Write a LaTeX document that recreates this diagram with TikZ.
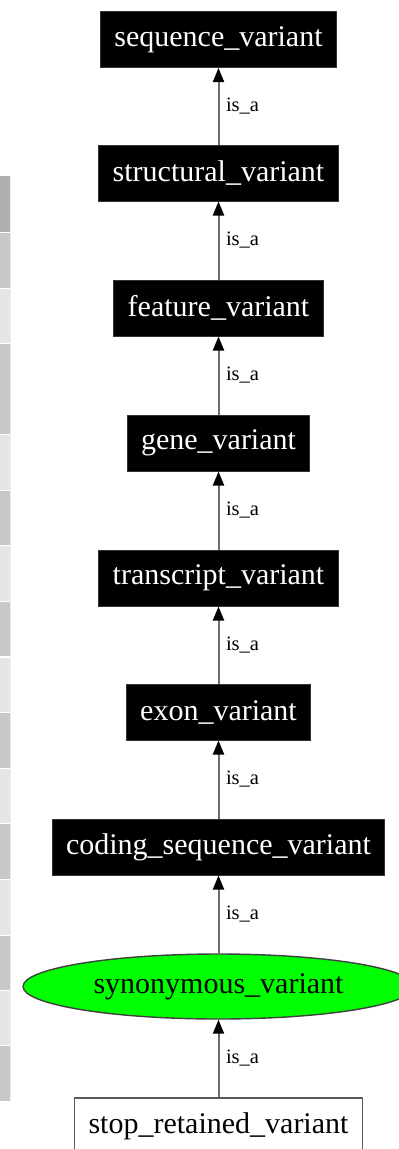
\documentclass[tikz,border=0pt]{standalone}
\usepackage{fontspec}
\setmainfont{Liberation Serif}
\usetikzlibrary{arrows.meta,shapes.geometric}
\definecolor{stripA}{HTML}{B0B0B0}
\definecolor{stripB}{HTML}{C8C8C8}
\definecolor{stripC}{HTML}{E6E6E6}
\definecolor{stripEdge}{HTML}{EEEEEE}
\definecolor{edgegray}{HTML}{6E6E6E}
\definecolor{termgreen}{HTML}{00FF00}
\tikzset{
  termbox/.style={rectangle, fill=black, draw=black!80, line width=1pt,
    text=white, inner xsep=14pt, inner ysep=0pt, minimum height=56pt,
    font=\fontsize{30}{34}\selectfont},
  leafbox/.style={rectangle, fill=white, draw=black!65, line width=1.4pt,
    text=black, inner xsep=14pt, inner ysep=0pt, minimum height=56pt,
    font=\fontsize{30}{34}\selectfont},
  focusterm/.style={ellipse, fill=termgreen, draw=black!75, line width=1.4pt,
    text=black, inner sep=0pt, minimum width=391pt, minimum height=65pt,
    font=\fontsize{30}{34}\selectfont},
  isa/.style={draw=edgegray, line width=2pt,
    -{Triangle[length=14pt,width=11pt,fill=black,color=black]}},
  isalabel/.style={anchor=west, inner sep=0pt, font=\fontsize{20.5}{24}\selectfont}
}
\begin{document}
\begin{tikzpicture}[x=1pt,y=-1pt]
\useasboundingbox (0,0) rectangle (399,1149);
\clip (0,0) rectangle (399,1149);
\fill[white] (0,0) rectangle (399,1149);

% grey striped margin on the left
\fill[stripA] (0,176) rectangle (10,232);
\fill[stripB] (0,233) rectangle (10,288);
\fill[stripC] (0,289) rectangle (10,343);
\fill[stripB] (0,344) rectangle (10,434);
\fill[stripC] (0,435) rectangle (10,490);
\fill[stripB] (0,491) rectangle (10,545);
\fill[stripC] (0,546) rectangle (10,601);
\fill[stripB] (0,602) rectangle (10,656);
\fill[stripC] (0,658) rectangle (10,712);
\fill[stripB] (0,713) rectangle (10,768);
\fill[stripC] (0,769) rectangle (10,823);
\fill[stripB] (0,824) rectangle (10,879);
\fill[stripC] (0,880) rectangle (10,935);
\fill[stripB] (0,936) rectangle (10,990);
\fill[stripC] (0,991) rectangle (10,1045);
\fill[stripB] (0,1046) rectangle (10,1101);
\draw[stripEdge, line width=1pt] (10.5,176) -- (10.5,1101);

% ontology terms
\node[termbox] (seqvar) at (218.5,39.5) {sequence\_variant};
\node[termbox] (structvar) at (218.5,173) {structural\_variant};
\node[termbox] (featvar) at (218.5,308) {feature\_variant};
\node[termbox] (genevar) at (218.5,443) {gene\_variant};
\node[termbox] (txvar) at (218.5,578) {transcript\_variant};
\node[termbox] (exonvar) at (218.5,712) {exon\_variant};
\node[termbox] (cdsvar) at (218.5,847) {coding\_sequence\_variant};
\node[focusterm] (synvar) at (218.5,986.5) {synonymous\_variant};
\node[leafbox] (stopret) at (218.5,1126) {stop\_retained\_variant};

% is_a relations, child to parent
\foreach \child/\parent in {structvar/seqvar, featvar/structvar, genevar/featvar,
    txvar/genevar, exonvar/txvar, cdsvar/exonvar, synvar/cdsvar, stopret/synvar} {
  \draw[isa] (\child) -- (\parent)
    node[isalabel, pos=0.5, xshift=6.5pt] {is\_a};
}
\end{tikzpicture}
\end{document}
